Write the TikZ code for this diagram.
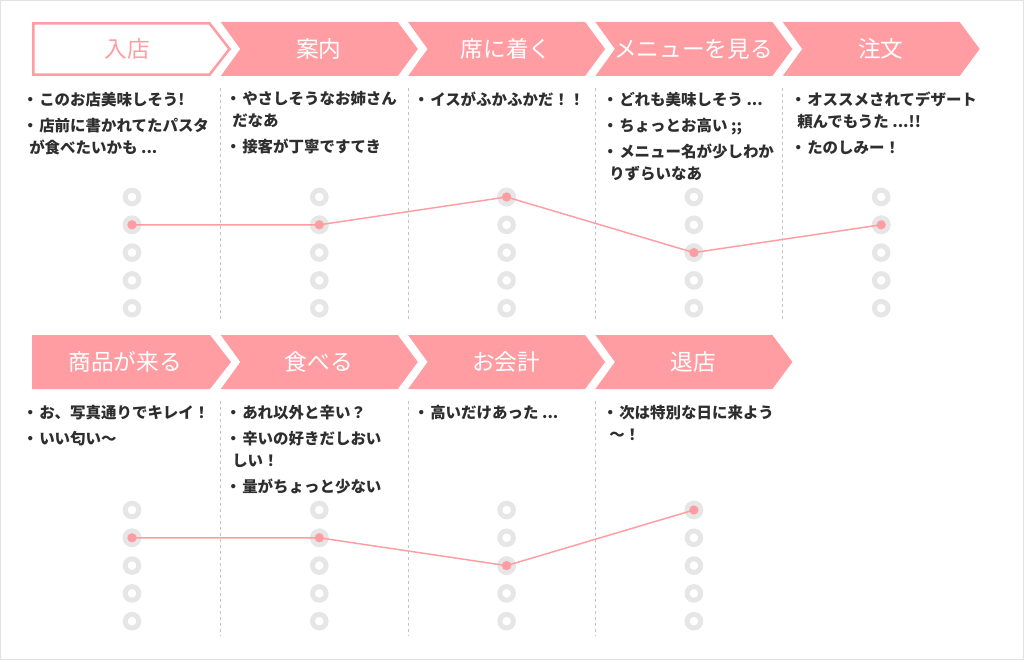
\documentclass[tikz,border=0pt]{standalone}
\usepackage{fontspec}
\newfontfamily\jp{Noto Sans CJK JP}
\usetikzlibrary{positioning}

\definecolor{salmon}{HTML}{FF9DA3}
\definecolor{ink}{HTML}{2E2E2E}
\definecolor{ring}{HTML}{E6E6E6}
\definecolor{rule}{HTML}{C4C4C4}
\definecolor{frame}{HTML}{E2E2E2}

% bullet sitting at the left edge of the memo
\newcommand{\memodot}{\makebox[7.5pt][l]{\kern-5pt ・}}

\tikzstyle{flow} = [fill=salmon]
\tikzstyle{flowfirst} = [draw=salmon, line width=1.9pt, fill=white]
\tikzstyle{title} = [font=\jp\fontsize{17}{17}\selectfont, text=white, inner sep=0pt]
\tikzstyle{memo} = [font=\jp\bfseries\fontsize{11.6}{16.5}\selectfont, text=ink, align=left, inner sep=0pt, anchor=north west]
\tikzstyle{divider} = [draw=rule, line width=0.75pt, dash pattern=on 2.25pt off 2.25pt]
\tikzstyle{dot} = [circle, draw=ring, line width=3.75pt, fill=white, minimum size=10.2pt, inner sep=0pt]
\tikzstyle{curve} = [draw=salmon, line width=1.1pt]

\begin{document}
\begin{tikzpicture}[x=0.75pt, y=-0.75pt]
\useasboundingbox (0,0) rectangle (1024,660);
\draw[frame, line width=0.75pt] (0.5,0.5) rectangle (1023.5,659.5);

% steps, first row
\draw[flowfirst] (33.3,23.3) -- (209.5,23.3) -- (229.5,49) -- (209.5,74.7) -- (33.3,74.7) -- cycle;
\node[title, text=salmon] (h1-0) at (127,49) {入店};
\foreach \i/\t in {1/案内, 2/席に着く, 3/メニューを見る, 4/注文} {
	\pgfmathsetmacro{\x}{33.5+187.3*\i}
	\fill[flow] (\x,22) -- ++(177,0) -- ++(20,27) -- ++(-20,27) -- ++(-177,0) -- ++(19.5,-27) -- cycle;
	\node[title] (h1-\i) at (\x+98,49) {\t};
}

% steps, second row
\fill[flow] (32,335) -- (210,335) -- (231,362) -- (210,389) -- (32,389) -- cycle;
\node[title] (h2-0) at (125,362) {商品が来る};
\foreach \i/\t in {1/食べる, 2/お会計, 3/退店} {
	\pgfmathsetmacro{\x}{33.5+187.3*\i}
	\fill[flow] (\x,335) -- ++(177,0) -- ++(20,27) -- ++(-20,27) -- ++(-177,0) -- ++(19.5,-27) -- cycle;
	\node[title] (h2-\i) at (\x+98,362) {\t};
}

% dividers
\foreach \i in {1,...,4} {
	\pgfmathsetmacro{\x}{33.5+187.3*\i}
	\draw[divider] (\x,88) -- (\x,322);
}
\foreach \i in {1,...,3} {
	\pgfmathsetmacro{\x}{33.5+187.3*\i}
	\draw[divider] (\x,401) -- (\x,636);
}

% memos
\node[memo] (m1-0) at (29,91.5) {\memodot このお店美味しそう!\\[3pt]\memodot 店前に書かれてたパスタ\\が食べたいかも ...};
\node[memo] (m1-1) at (232,91.5) {\memodot やさしそうなお姉さん\\だなあ\\[3pt]\memodot 接客が丁寧ですてき};
\node[memo] (m1-2) at (420,91.5) {\memodot イスがふかふかだ！！};
\node[memo] (m1-3) at (609,91.5) {\memodot どれも美味しそう ...\\[3pt]\memodot ちょっとお高い ;;\\[3pt]\memodot メニュー名が少しわか\\りずらいなあ};
\node[memo] (m1-4) at (797,91.5) {\memodot オススメされてデザート\\頼んでもうた ...!!\\[3pt]\memodot たのしみー！};

\node[memo] (m2-0) at (29,404.5) {\memodot お、写真通りでキレイ！\\[3pt]\memodot いい匂い～};
\node[memo] (m2-1) at (232,404.5) {\memodot あれ以外と辛い？\\[3pt]\memodot 辛いの好きだしおい\\しい！\\[3pt]\memodot 量がちょっと少ない};
\node[memo] (m2-2) at (420,404.5) {\memodot 高いだけあった ...};
\node[memo] (m2-3) at (609,404.5) {\memodot 次は特別な日に来よう\\～！};

% rating scales
\foreach \c in {0,...,4} {
	\foreach \l in {1,...,5} {
		\node[dot] (d1-\c-\l) at (132+187.3*\c, 197+27.8*\l-27.8) {};
	}
}
\foreach \c in {0,...,3} {
	\foreach \l in {1,...,5} {
		\node[dot] (d2-\c-\l) at (132+187.3*\c, 510+27.8*\l-27.8) {};
	}
}

% ratings
\foreach \p in {d1-0-2, d1-1-2, d1-2-1, d1-3-3, d1-4-2, d2-0-2, d2-1-2, d2-2-3, d2-3-1}
	\fill[ring] (\p) circle (7pt);
\draw[curve] (d1-0-2.center) -- (d1-1-2.center) -- (d1-2-1.center) -- (d1-3-3.center) -- (d1-4-2.center);
\draw[curve] (d2-0-2.center) -- (d2-1-2.center) -- (d2-2-3.center) -- (d2-3-1.center);
\foreach \p in {d1-0-2, d1-1-2, d1-2-1, d1-3-3, d1-4-2, d2-0-2, d2-1-2, d2-2-3, d2-3-1}
	\fill[salmon] (\p) circle (3.5pt);
\end{tikzpicture}
\end{document}
